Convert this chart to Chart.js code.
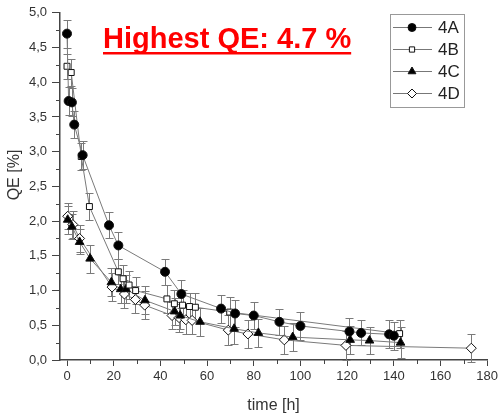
<!DOCTYPE html>
<html>
<head>
<meta charset="utf-8">
<script src="https://cdn.jsdelivr.net/npm/chart.js@4.4.1/dist/chart.umd.min.js"></script>
<style>
  html, body { margin: 0; padding: 0; background: #fff; }
  #wrap { width: 501px; height: 415px; }
</style>
</head>
<body>
<div id="wrap"><canvas id="qeChart" width="501" height="415"></canvas></div>
<script>
// Daten (time [h], QE [%], Fehler)
const seriesNames = ['4A', '4B', '4C', '4D'];

const timeA = [0, 0.7, 2.1, 3.1, 6.7, 18, 22, 42, 49, 66, 72, 80, 91, 100, 121, 126, 138, 140];
const qeA   = [4.70, 3.73, 3.71, 3.39, 2.95, 1.94, 1.65, 1.27, 0.95, 0.74, 0.67, 0.64, 0.55, 0.49, 0.41, 0.39, 0.37, 0.35];
const errA  = [0.20, 0.20, 0.20, 0.20, 0.20, 0.19, 0.20, 0.19, 0.20, 0.20, 0.20, 0.19, 0.19, 0.20, 0.20, 0.18, 0.20, 0.20];

const timeB = [0, 1.8, 6.1, 9.6, 22, 24, 26.6, 29.4, 42.8, 46, 49.5, 52.5, 55, 69.7, 142.5];
const qeB   = [4.23, 4.14, 2.93, 2.21, 1.27, 1.17, 1.08, 1.00, 0.88, 0.81, 0.79, 0.77, 0.76, 0.69, 0.38];
const errB  = [0.18, 0.20, 0.20, 0.19, 0.18, 0.20, 0.20, 0.20, 0.20, 0.20, 0.22, 0.20, 0.20, 0.22, 0.20];

const timeC = [0.3, 2.1, 5.4, 9.9, 19, 23, 25.3, 33.4, 46.1, 48.5, 57, 71.6, 82, 96.7, 121.3, 129.6, 142.9];
const qeC   = [2.02, 1.92, 1.70, 1.46, 1.12, 1.02, 1.02, 0.86, 0.70, 0.64, 0.55, 0.45, 0.39, 0.33, 0.29, 0.28, 0.25];
const errC  = [0.20, 0.18, 0.18, 0.20, 0.20, 0.20, 0.20, 0.20, 0.20, 0.20, 0.20, 0.22, 0.20, 0.20, 0.20, 0.20, 0.22];

const timeD = [0.3, 2.5, 5.4, 19.3, 24.6, 29.3, 33.3, 45, 48, 50.9, 53.6, 69.1, 77.5, 93.1, 119.5, 173.2];
const qeD   = [2.07, 1.95, 1.75, 1.05, 0.95, 0.87, 0.79, 0.64, 0.61, 0.58, 0.57, 0.43, 0.375, 0.29, 0.21, 0.17];
const errD  = [0.19, 0.20, 0.20, 0.20, 0.20, 0.20, 0.20, 0.20, 0.20, 0.20, 0.20, 0.22, 0.20, 0.20, 0.21, 0.20];

const xTicks = [0, 20, 40, 60, 80, 100, 120, 140, 160, 180];
const xMinor = [10, 30, 50, 70, 90, 110, 130, 150, 170];
const yTicks = [0, 0.5, 1, 1.5, 2, 2.5, 3, 3.5, 4, 4.5, 5];
const yMinor = [0.25, 0.75, 1.25, 1.75, 2.25, 2.75, 3.25, 3.75, 4.25, 4.75];

const FONT = "'Liberation Sans', Arial, sans-serif";
const AXIS = '#444';

function toPoints(t, v, e) {
    return t.map((x, i) => ({ x: x, y: v[i], err: e[i] }));
}

// Fehlerbalken unter den Linien
const errorBars = {
    id: 'errorBars',
    beforeDatasetsDraw(chart) {
        const { ctx, scales: { x, y } } = chart;
        ctx.save();
        ctx.strokeStyle = '#7a7a7a';
        ctx.lineWidth = 1;
        chart.data.datasets.forEach(ds => {
            ds.data.forEach(p => {
                const px = Math.round(x.getPixelForValue(p.x)) + 0.5;
                const top = Math.round(y.getPixelForValue(p.y + p.err)) + 0.5;
                const bot = Math.round(y.getPixelForValue(p.y - p.err)) + 0.5;
                ctx.beginPath();
                ctx.moveTo(px, top); ctx.lineTo(px, bot);
                ctx.moveTo(px - 4, top); ctx.lineTo(px + 4, top);
                ctx.moveTo(px - 4, bot); ctx.lineTo(px + 4, bot);
                ctx.stroke();
            });
        });
        ctx.restore();
    }
};

// kleine Zwischenstriche, Achsentitel, Legende und Titel
const extras = {
    id: 'extras',
    afterDraw(chart) {
        const { ctx, scales: { x, y }, chartArea } = chart;
        ctx.save();
        ctx.strokeStyle = AXIS;
        ctx.lineWidth = 1;
        ctx.beginPath();
        xMinor.forEach(v => {
            const px = Math.round(x.getPixelForValue(v)) + 0.5;
            ctx.moveTo(px, chartArea.bottom); ctx.lineTo(px, chartArea.bottom + 4);
        });
        yMinor.forEach(v => {
            const py = Math.round(y.getPixelForValue(v)) + 0.5;
            ctx.moveTo(chartArea.left, py); ctx.lineTo(chartArea.left - 4, py);
        });
        ctx.stroke();

        // y-Achsentitel
        ctx.save();
        ctx.translate(15, 175);
        ctx.rotate(-Math.PI / 2);
        ctx.font = '16px ' + FONT;
        ctx.fillStyle = '#333';
        ctx.textAlign = 'center';
        ctx.textBaseline = 'middle';
        ctx.fillText('QE [%]', 0, 0);
        ctx.restore();

        // Legende
        ctx.strokeStyle = '#999';
        ctx.strokeRect(390.5, 14.5, 74, 93);
        ctx.font = '17px ' + FONT;
        ctx.textBaseline = 'middle';
        ctx.fillStyle = '#222';
        chart.data.datasets.forEach((ds, i) => {
            const ly = 27 + i * 22;
            ctx.strokeStyle = '#777';
            ctx.beginPath();
            ctx.moveTo(393, ly + 0.5); ctx.lineTo(432, ly + 0.5);
            ctx.stroke();
            ctx.fillStyle = ds.pointBackgroundColor;
            ctx.strokeStyle = ds.pointBorderColor;
            ctx.lineWidth = 1;
            Chart.helpers.drawPoint(ctx, { pointStyle: ds.pointStyle, radius: ds.pointRadius - 0.5, rotation: 0, borderWidth: 1 }, 412, ly + 0.5);
            ctx.fillStyle = '#222';
            ctx.fillText(ds.label, 438, ly + 1);
        });

        // Titel
        ctx.fillStyle = '#ff0000';
        ctx.font = 'bold 29px ' + FONT;
        ctx.textBaseline = 'alphabetic';
        ctx.textAlign = 'left';
        const title = 'Highest QE: 4.7 %';
        const w = ctx.measureText(title).width;
        ctx.fillText(title, 103, 48);
        ctx.fillRect(103, 52, w, 2.5);
        ctx.restore();
    }
};

const sets = [
    { t: timeA, v: qeA, e: errA, style: 'circle',   r: 4.5, fill: '#000' },
    { t: timeB, v: qeB, e: errB, style: 'rect',     r: 4.2, fill: '#fff' },
    { t: timeC, v: qeC, e: errC, style: 'triangle', r: 5,   fill: '#000' },
    { t: timeD, v: qeD, e: errD, style: 'rectRot',  r: 5,   fill: '#fff' }
];

const ctx = document.getElementById('qeChart').getContext('2d');
new Chart(ctx, {
    type: 'scatter',
    data: {
        datasets: sets.map((s, i) => ({
            label: seriesNames[i],
            data: toPoints(s.t, s.v, s.e),
            showLine: true,
            borderColor: '#7a7a7a',
            borderWidth: 1,
            pointStyle: s.style,
            pointRadius: s.r,
            pointHoverRadius: s.r,
            pointBackgroundColor: s.fill,
            pointBorderColor: '#111',
            pointBorderWidth: 1,
            clip: false
        }))
    },
    options: {
        responsive: false,
        animation: false,
        layout: { padding: { left: 0, right: 12, top: 12, bottom: 0 } },
        plugins: {
            legend: { display: false },
            tooltip: { enabled: false }
        },
        scales: {
            x: {
                type: 'linear',
                min: -3,
                max: 180,
                afterBuildTicks: s => { s.ticks = xTicks.map(v => ({ value: v })); },
                afterFit: s => { s.height = 55; },
                ticks: { color: '#333', font: { family: FONT, size: 13 }, padding: 3, maxRotation: 0 },
                grid: { drawOnChartArea: false, tickLength: 6, color: AXIS },
                border: { color: AXIS, width: 1.5 },
                title: { display: true, text: 'time [h]', color: '#333', font: { family: FONT, size: 16 }, padding: 0 }
            },
            y: {
                min: 0,
                max: 5,
                afterBuildTicks: s => { s.ticks = yTicks.map(v => ({ value: v })); },
                afterFit: s => { s.width = 60; },
                ticks: { color: '#333', font: { family: FONT, size: 13 }, padding: 5,
                         callback: v => v.toFixed(1).replace('.', ',') },
                grid: { drawOnChartArea: false, tickLength: 8, color: AXIS },
                border: { color: AXIS, width: 1.5 },
                title: { display: false }
            }
        }
    },
    plugins: [errorBars, extras]
});
</script>
</body>
</html>
